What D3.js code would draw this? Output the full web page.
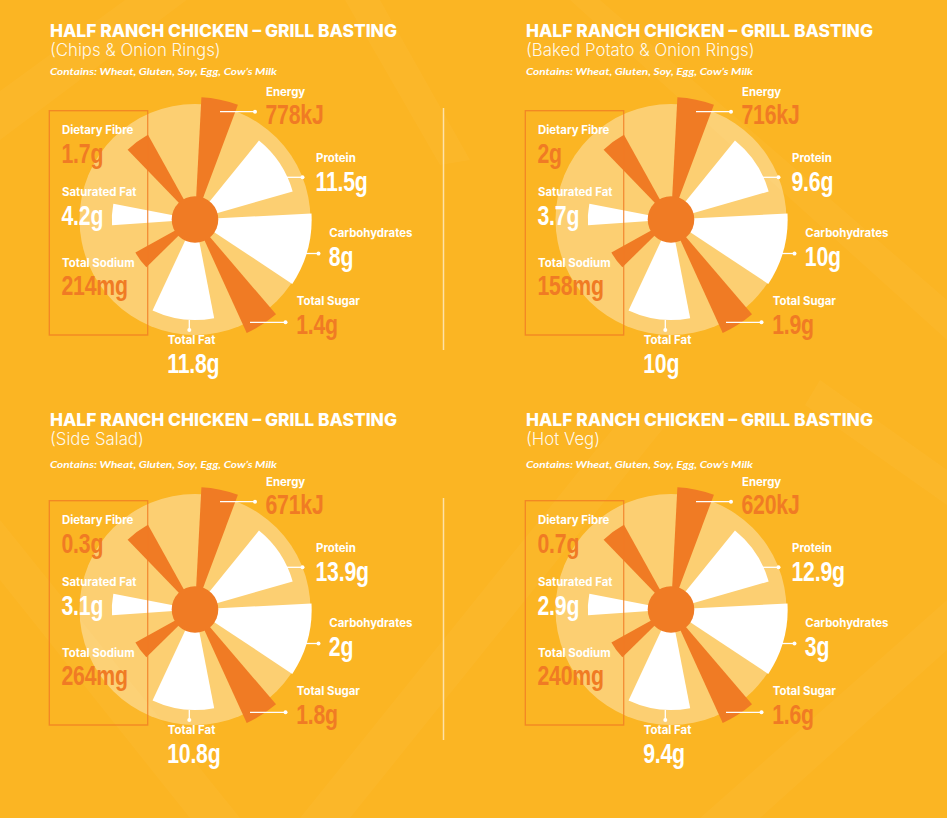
<!DOCTYPE html>
<html>
<head>
<meta charset="utf-8">
<script src="https://cdn.jsdelivr.net/npm/d3@7"></script>
<style>
  html, body { margin: 0; padding: 0; background: #FBB523; }
  svg { display: block; }
</style>
</head>
<body>
<svg id="chart" width="947" height="818"></svg>
<script>
// ---------------- DATA ----------------
const categories = ["Energy", "Protein", "Carbohydrates", "Total Sugar", "Total Fat", "Total Sodium", "Saturated Fat", "Dietary Fibre"];
const units = ["kJ", "g", "g", "g", "g", "mg", "g", "g"];
const panelTitles = [
  "HALF RANCH CHICKEN – GRILL BASTING",
  "HALF RANCH CHICKEN – GRILL BASTING",
  "HALF RANCH CHICKEN – GRILL BASTING",
  "HALF RANCH CHICKEN – GRILL BASTING"
];
const panelSubtitles = ["(Chips & Onion Rings)", "(Baked Potato & Onion Rings)", "(Side Salad)", "(Hot Veg)"];
const allergenNote = "Contains: Wheat, Gluten, Soy, Egg, Cow’s Milk";
const chipsOnionRings = [778, 11.5, 8, 1.4, 11.8, 214, 4.2, 1.7];
const bakedPotatoOnionRings = [716, 9.6, 10, 1.9, 10, 158, 3.7, 2];
const sideSalad = [671, 13.9, 2, 1.8, 10.8, 264, 3.1, 0.3];
const hotVeg = [620, 12.9, 3, 1.6, 9.4, 240, 2.9, 0.7];
// relative spoke length (percent of the backing disc)
const spokeLevel = [106, 88, 101, 108, 87, 59, 72, 84];
// spoke group: highlighted (orange) or plain (white)
const spokeGroup = ["orange", "white", "white", "orange", "white", "orange", "white", "orange"];

// ---------------- LAYOUT / STYLE ----------------
const ORANGE = "#F07B24";
const BG = "#FBB523";
const panelData = [chipsOnionRings, bakedPotatoOnionRings, sideSalad, hotVeg];
const colStep = 476, rowStep = 390;
const center = { x: 195, y: 219.5 };

const svg = d3.select("#chart");
const toRad = d => d * Math.PI / 180;

// background
svg.append("rect").attr("width", 947).attr("height", 818).attr("fill", BG);
const pattern = svg.append("g").attr("fill", "#fff");
[
  "M-40,120 L180,-40 L240,-40 L-40,170 Z",
  "M300,818 L620,420 L670,420 L350,818 Z",
  "M600,0 L947,300 L947,340 L570,0 Z",
  "M0,520 L240,818 L190,818 L0,580 Z",
  "M700,818 L947,600 L947,650 L760,818 Z",
  "M380,0 L470,160 L440,165 L345,0 Z",
  "M820,380 L947,470 L947,505 L805,405 Z"
].forEach(p => pattern.append("path").attr("d", p).attr("opacity", 0.03));

// scales
const radius = d3.scaleLinear().domain([0, 100]).range([0, 115.5]);
const angleDeg = d3.scaleOrdinal().domain(categories).range([11.75, 56.5, 105.25, 147.5, 187, 233.25, 273.5, 323.5]);
const spanDeg = d3.scaleOrdinal().domain(categories).range([17.5, 35, 36.5, 16, 36, 15.5, 15, 15]);
const spokeFill = d3.scaleOrdinal().domain(["orange", "white"]).range([ORANGE, "#FFFFFF"]);

const arc = d3.arc()
  .innerRadius(0)
  .outerRadius(d => radius(d.level))
  .startAngle(d => toRad(angleDeg(d.cat) - spanDeg(d.cat) / 2))
  .endAngle(d => toRad(angleDeg(d.cat) + spanDeg(d.cat) / 2));

// label anchors relative to chart centre (annotation layout)
const labelLayout = {
  "Energy":        { x: 71,   y: -124,  leader: [25, -107.8, 60, -107.8] },
  "Protein":       { x: 121,  y: -57.2, leader: [92, -42.2, 107.5, -42.2] },
  "Carbohydrates": { x: 134.3, y: 17.8, leader: [111, 34, 123.5, 34] },
  "Total Sugar":   { x: 101.7, y: 85.8, leader: [55, 102.8, 90.5, 102.8] },
  "Total Fat":     { x: -27.3, y: 124.5, leader: [-5.7, 100.5, -5.7, 110.5] },
  "Total Sodium":  { x: -133, y: 47.2,  leader: null },
  "Saturated Fat": { x: -133, y: -23.5, leader: null },
  "Dietary Fibre": { x: -133, y: -85.5, leader: null }
};

const fmt = v => String(v);

panelData.forEach((vals, p) => {
  const col = p % 2, row = Math.floor(p / 2);
  const g = svg.append("g").attr("transform", `translate(${col * colStep},${row * rowStep})`);

  // headings
  g.append("text").attr("x", 50).attr("y", 36.7 - (row ? 1 : 0))
    .attr("font-family", "Inter, 'Open Sans', sans-serif").attr("font-weight", 800)
    .attr("font-size", 17.5).attr("fill", "#fff")
    .attr("textLength", 347).attr("lengthAdjust", "spacingAndGlyphs")
    .text(panelTitles[p]);
  g.append("text").attr("x", 50).attr("y", 55.5 - (row ? 1 : 0))
    .attr("font-family", "Inter, 'Open Sans', sans-serif").attr("font-weight", 300)
    .attr("font-size", 16.8).attr("fill", "#fff").attr("fill-opacity", 0.92)
    .text(panelSubtitles[p]);
  g.append("text").attr("x", 50).attr("y", 74.5 + (row ? 3 : 0))
    .attr("font-family", "Lato, Inter, sans-serif").attr("font-weight", 700).attr("font-style", "italic")
    .attr("font-size", 9.8).attr("fill", "#fff")
    .attr("textLength", 227).attr("lengthAdjust", "spacingAndGlyphs")
    .text(allergenNote);

  const c = g.append("g").attr("transform", `translate(${center.x},${center.y})`);

  // backing disc
  c.append("circle").attr("r", radius(100)).attr("fill", "#fff").attr("fill-opacity", 0.36);

  const rows = categories.map((cat, i) => ({ cat, level: spokeLevel[i], group: spokeGroup[i], value: vals[i], unit: units[i] }));

  c.selectAll("path.spoke").data(rows).enter().append("path")
    .attr("class", "spoke")
    .attr("d", arc)
    .attr("fill", d => spokeFill(d.group));

  c.append("circle").attr("r", 23.3).attr("fill", ORANGE);

  // left box
  c.append("rect").attr("x", -145.7).attr("y", -108.8).attr("width", 98.4).attr("height", 224.3)
    .attr("fill", "none").attr("stroke", ORANGE).attr("stroke-opacity", 0.8).attr("stroke-width", 1.3);

  // labels
  rows.forEach(d => {
    const L = labelLayout[d.cat];
    c.append("text").attr("x", L.x).attr("y", L.y)
      .attr("font-family", "Inter, 'Open Sans', sans-serif").attr("font-weight", 700)
      .attr("font-size", 11.4).attr("fill", "#fff")
      .text(d.cat);
    c.append("g").attr("transform", `translate(${L.x - 0.5},${L.y + 28.5}) scale(0.76,1)`)
      .append("text").attr("x", 0).attr("y", 0)
      .attr("font-family", "'Liberation Sans', Arial, sans-serif")
      .attr("font-weight", 700).attr("font-size", 28).attr("letter-spacing", -0.3)
      .attr("fill", d.group === "orange" ? ORANGE : "#fff")
      .text(fmt(d.value) + d.unit);
    if (L.leader) {
      const [x1, y1, x2, y2] = L.leader;
      c.append("line").attr("x1", x1).attr("y1", y1).attr("x2", x2).attr("y2", y2)
        .attr("stroke", "#fff").attr("stroke-width", 1.3);
      c.append("circle").attr("cx", x2).attr("cy", y2).attr("r", 2).attr("fill", "#fff");
    }
  });

  // divider between columns
  if (col === 0) {
    c.append("line").attr("x1", 248.5).attr("x2", 248.5).attr("y1", -111.5).attr("y2", 130.5)
      .attr("stroke", "#fff").attr("stroke-opacity", 0.6).attr("stroke-width", 1.5);
  }
});
</script>
</body>
</html>
